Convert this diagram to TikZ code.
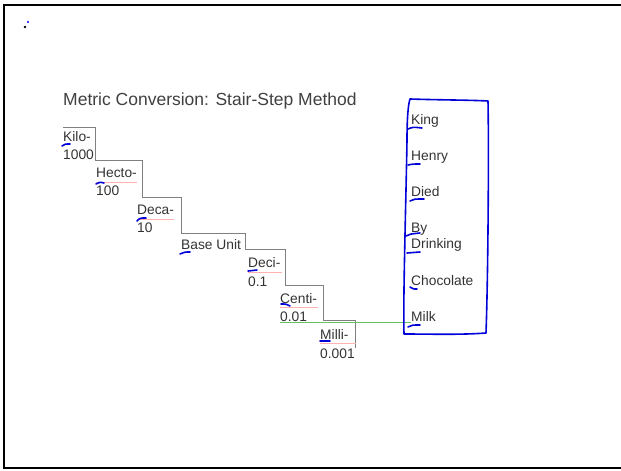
\documentclass[tikz,border=0pt]{standalone}
\usepackage{fontspec}
\setmainfont{Liberation Sans}
\begin{document}
\begin{tikzpicture}[x=1pt,y=-1pt,
  lbl/.style={anchor=base west,inner sep=0pt,text=black!80,font=\fontsize{13.8}{16}\selectfont},
  ttl/.style={anchor=base west,inner sep=0pt,text=black!75,font=\fontsize{17.5}{20}\selectfont},
  stair/.style={draw=black!50,line width=0.8pt},
  ink/.style={draw=blue!85!black,line width=1.6pt,line cap=round,line join=round},
  squig/.style={draw=red!30,line width=0.5pt},
  rung/.style={draw=green!60!black!60,line width=1pt}]
\useasboundingbox (0,0) rectangle (621,471);
% page frame (open on the right)
\draw[line width=2pt] (622,5) -- (4,5) -- (4,468) -- (622,468);
\fill (25,27) circle (1.3);
\fill[blue] (28,22) circle (1.1);

% title
\node[ttl] (title) at (63,105) {Metric Conversion: Stair-Step Method};

% stair-step outline
\draw[stair] (63,127) -- (95,127) -- (95,160) -- (142,160) -- (142,197)
  -- (181,197) -- (181,233) -- (245,233) -- (245,249) -- (285,249)
  -- (285,285) -- (323,285) -- (323,320) -- (355,320) -- (355,348);

% step labels
\node[lbl] (kilo) at (63,141) {Kilo-};
\node[lbl] (kiloV) at (63,159) {1000};
\node[lbl] (hecto) at (96,177) {Hecto-};
\node[lbl] (hectoV) at (96,195) {100};
\node[lbl] (deca) at (137,214) {Deca-};
\node[lbl] (decaV) at (137,232) {10};
\node[lbl] (base) at (181,249) {Base Unit};
\node[lbl] (deci) at (248,267) {Deci-};
\node[lbl] (deciV) at (248,286) {0.1};
\node[lbl] (centi) at (280,303) {Centi-};
\node[lbl] (centiV) at (280,321) {0.01};
\node[lbl] (milli) at (320,339) {Milli-};
\node[lbl] (milliV) at (320,358) {0.001};

% mnemonic words
\node[lbl] (king) at (411,124) {King};
\node[lbl] (henry) at (411,160) {Henry};
\node[lbl] (died) at (411,196) {Died};
\node[lbl] (by) at (411,232) {By};
\node[lbl] (drinking) at (411,248) {Drinking};
\node[lbl] (choc) at (411,285) {Chocolate};
\node[lbl] (milk) at (411,321) {Milk};

% spell-check marks
\foreach \a/\b/\c in {96/137/182, 137/174/219, 248/282/272, 280/318/307, 320/356/343}
  \draw[squig] (\a,\c) -- (\b,\c);

% rung from Centi to Milk
\draw[rung] (280,322.5) coordinate (r0) -- (r0 -| milk.west);

% hand-drawn box round the words
\draw[ink] (410,99) .. controls (440,100) and (470,100) .. (488,101)
  .. controls (489,150) and (488,280) .. (486,333)
  .. controls (460,335) and (430,334) .. (404,334)
  .. controls (403,300) and (406,200) .. (407,140)
  .. controls (407,120) and (408,105) .. (410,99);

% hand-drawn underlines of initials
\draw[ink] (62,146) .. controls (65,144) .. (70,144);
\draw[ink] (96,184) .. controls (100,182) .. (104,183);
\draw[ink] (137,221) .. controls (140,218) .. (146,218);
\draw[ink] (180,254) .. controls (185,252) .. (190,252);
\draw[ink] (248,271) -- (257,270);
\draw[ink] (281,304) .. controls (286,304) .. (290,306);
\draw[ink] (320,341) -- (330,341);
\draw[ink] (408,129) .. controls (413,127) .. (422,128);
\draw[ink] (408,165) .. controls (413,164) .. (420,164);
\draw[ink] (410,201) .. controls (414,199) .. (424,199);
\draw[ink] (406,236) .. controls (410,234) .. (420,233);
\draw[ink] (407,253) -- (420,252);
\draw[ink] (410,287) .. controls (413,289) .. (417,289);
\draw[ink] (408,327) .. controls (412,325) .. (420,325);
\end{tikzpicture}
\end{document}
